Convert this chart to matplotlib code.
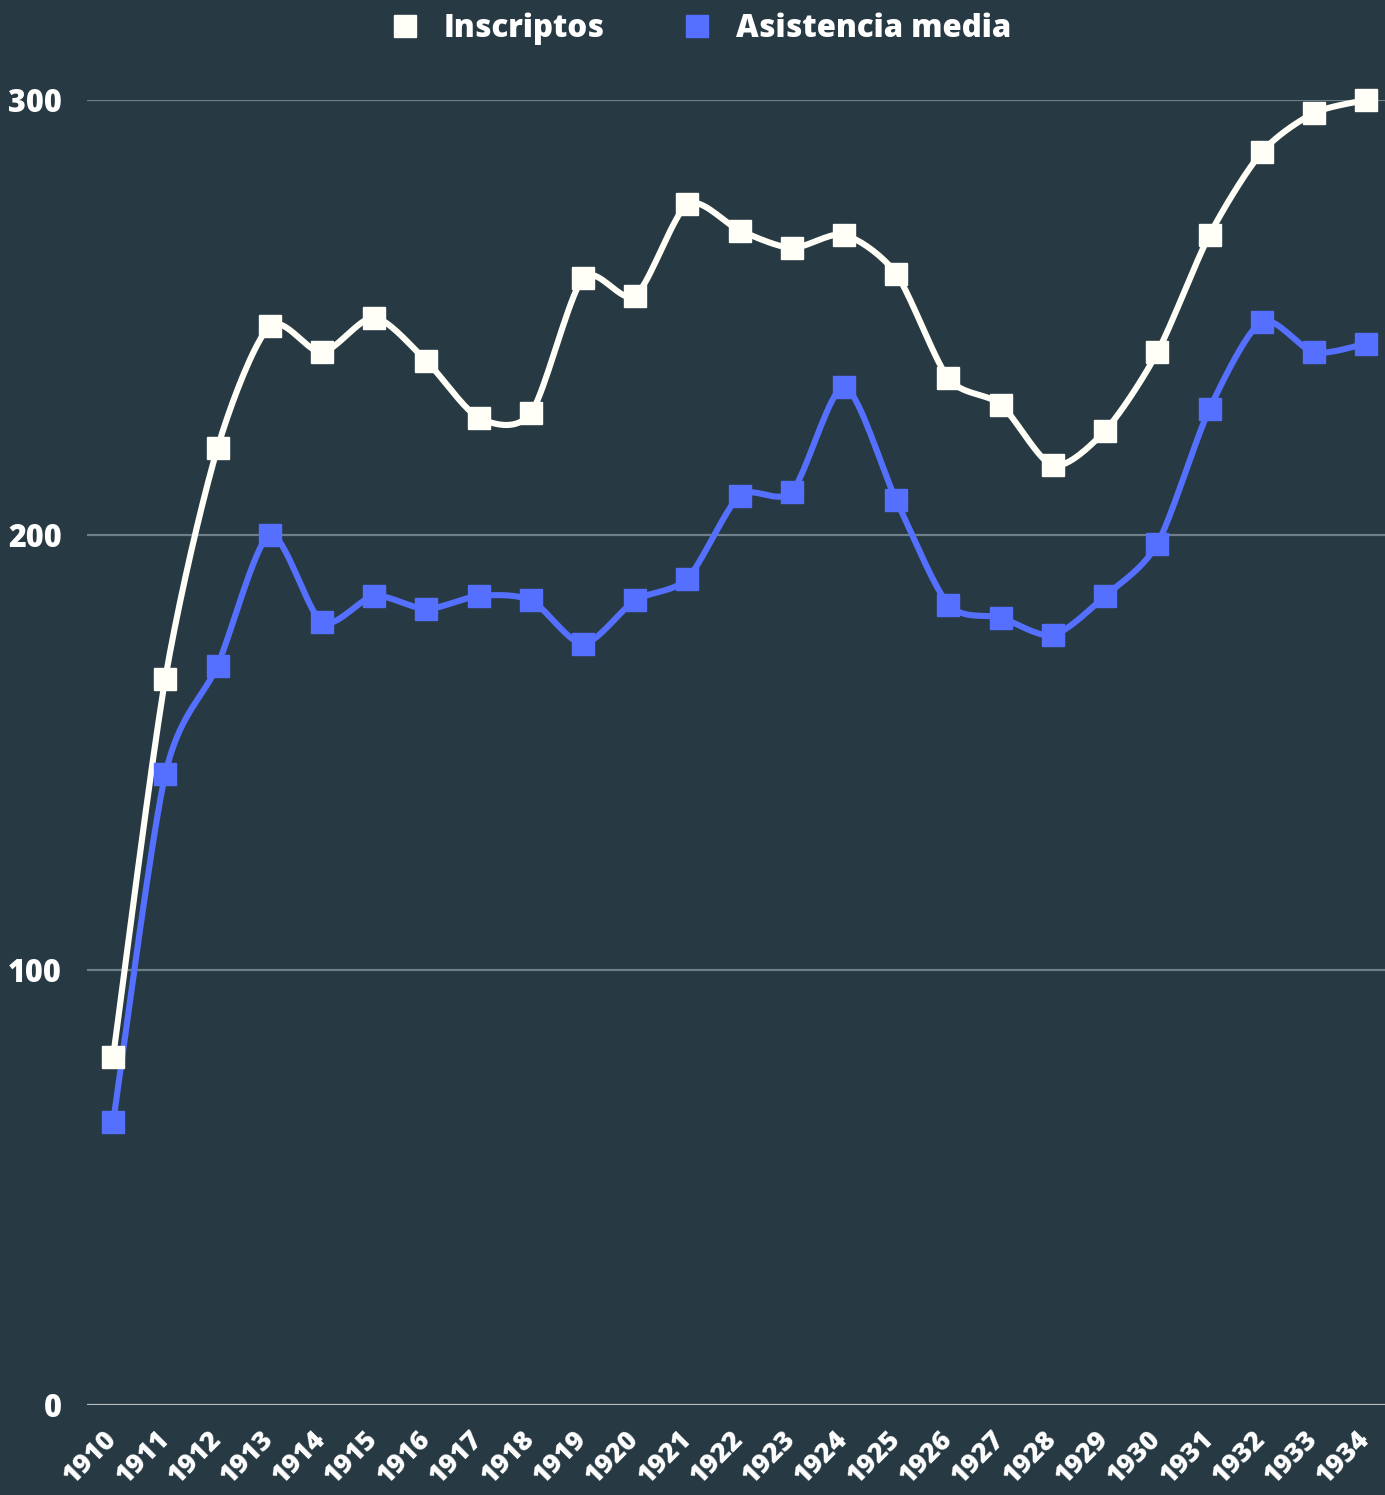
import numpy as np
import matplotlib
matplotlib.use("Agg")
import matplotlib.pyplot as plt
from matplotlib.lines import Line2D

plt.rcParams['font.family'] = ['Open Sans', 'DejaVu Sans']
plt.rcParams['font.weight'] = 'heavy'

years = list(range(1910, 1935))
inscriptos = [80, 167, 220, 248, 242, 250, 240, 227, 228, 259, 255, 276, 270, 266,
              269, 260, 236, 230, 216, 224, 242, 269, 288, 297, 300]
asistencia = [65, 145, 170, 200, 180, 186, 183, 186, 185, 175, 185, 190, 209, 210,
              234, 208, 184, 181, 177, 186, 198, 229, 249, 242, 244]

BG = '#273a43'
WHITE = '#fffff8'
BLUE = '#5570ff'


def smooth(x, y, steps=20, k=0.4):
    # cardinal spline through the points, for drawing only
    x = np.asarray(x, float)
    y = np.asarray(y, float)
    px = np.concatenate(([x[0]], x, [x[-1]]))
    py = np.concatenate(([y[0]], y, [y[-1]]))
    xs, ys = [], []
    t = np.linspace(0, 1, steps, endpoint=False)
    for i in range(1, len(px) - 2):
        p0, p1, p2, p3 = py[i - 1], py[i], py[i + 1], py[i + 2]
        q0, q1, q2, q3 = px[i - 1], px[i], px[i + 1], px[i + 2]
        m1y, m2y = k * (p2 - p0), k * (p3 - p1)
        m1x, m2x = k * (q2 - q0), k * (q3 - q1)
        h00 = 2 * t**3 - 3 * t**2 + 1
        h10 = t**3 - 2 * t**2 + t
        h01 = -2 * t**3 + 3 * t**2
        h11 = t**3 - t**2
        xs.append(h00 * q1 + h10 * m1x + h01 * q2 + h11 * m2x)
        ys.append(h00 * p1 + h10 * m1y + h01 * p2 + h11 * m2y)
    xs.append([x[-1]])
    ys.append([y[-1]])
    return np.concatenate(xs), np.concatenate(ys)


fig = plt.figure(figsize=(13.85, 14.95), dpi=100, facecolor=BG)
ax = fig.add_axes([0.0628, 0.0602, 0.9372, 0.8729])
ax.set_facecolor(BG)

for s, c in [(inscriptos, WHITE), (asistencia, BLUE)]:
    sx, sy = smooth(years, s)
    ax.plot(sx, sy, color=c, lw=4.4, solid_capstyle='round', clip_on=False, zorder=3)
    ax.plot(years, s, ls='none', marker='s', ms=15.5, color=c, mec=c,
            clip_on=False, zorder=4)

ax.set_xlim(1909.5, 1934.36)
ax.set_ylim(0, 300)
ax.set_yticks([0, 100, 200, 300])
for v in [100, 200, 300]:
    ax.axhline(v, color='#6e7f87', lw=1.6, zorder=1)
ax.axhline(0, color='#b4bcbf', lw=1.6, zorder=1)

for sp in ax.spines.values():
    sp.set_visible(False)

ax.tick_params(axis='y', length=0, pad=18, labelsize=22, labelcolor='white')
ax.tick_params(axis='x', length=0, pad=22, labelsize=19.5, labelcolor='white')
ax.set_xticks(years)
ax.set_xticklabels([str(y) for y in years], rotation=45, ha='right',
                   rotation_mode='anchor', va='center')
for lab in ax.get_yticklabels() + ax.get_xticklabels():
    lab.set_fontweight('heavy')

handles = [Line2D([], [], ls='none', marker='s', ms=16, color=WHITE, label='Inscriptos'),
           Line2D([], [], ls='none', marker='s', ms=16, color=BLUE, label='Asistencia media')]
leg = fig.legend(handles=handles, loc='center', bbox_to_anchor=(0.5, 0.9805), ncol=2,
                 frameon=False, fontsize=22.5, labelcolor='white', handletextpad=0.25,
                 columnspacing=1.95)
for t in leg.get_texts():
    t.set_fontweight('heavy')

fig.savefig('out.png', dpi=100, facecolor=BG)
